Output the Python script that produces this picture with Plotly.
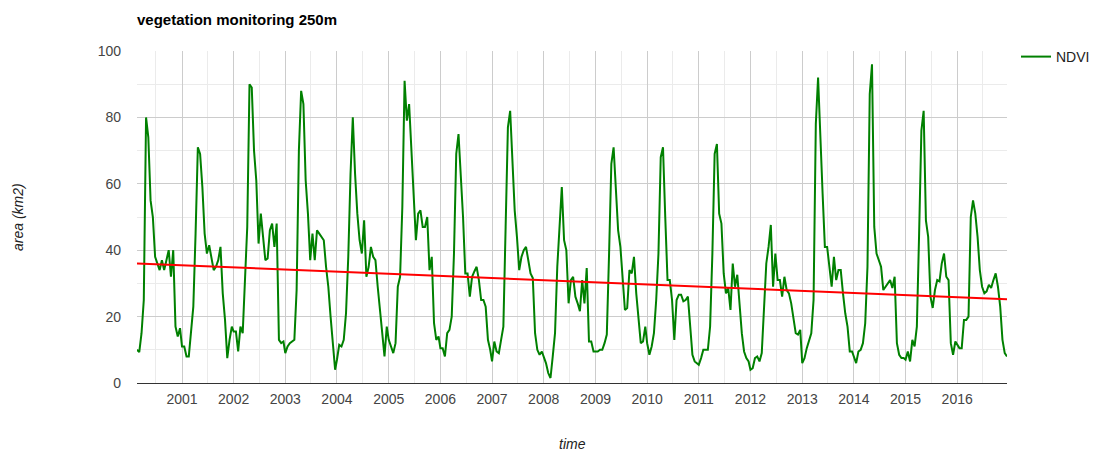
import datetime as dt
import numpy as np
import plotly.graph_objects as go

chart_title = "vegetation monitoring 250m"
series_name = "NDVI"
x_axis_title = "time"
y_axis_title = "area (km2)"

# start day-of-year of the 16-day composites
composite_doy = [1, 17, 33, 49, 65, 81, 97, 113, 129, 145, 161, 177,
                 193, 209, 225, 241, 257, 273, 289, 305, 321, 337, 353]

# NDVI area (km2) per composite, one list per year (2000 starts on day 49)
ndvi_2000 = [10, 9.3, 15, 25, 80, 74, 55, 50, 38, 36, 34, 37, 34, 37, 40, 32, 40, 17, 14, 16.5]
ndvi_2001 = [11, 11, 8, 8, 15, 23, 45, 71, 69, 59, 45, 39, 41.5, 38, 34, 35, 37, 41, 27, 19, 7.5, 13, 17]
ndvi_2002 = [15.5, 15.5, 9.5, 17, 15, 32, 47, 90, 89, 70, 61, 42, 51, 44, 37, 37.5, 46, 48, 41, 48, 13, 12, 12.5]
ndvi_2003 = [9, 11, 12, 12.5, 13, 28, 70, 88, 84, 61, 51, 37, 45, 37, 46, 45, 44, 43, 35, 29, 20, 11, 4]
ndvi_2004 = [7, 11.5, 11, 13, 21, 38, 63, 80, 63, 51, 43, 39, 49, 32, 35, 41, 38, 37, 29, 21, 15, 8, 17]
ndvi_2005 = [13, 11, 9, 12, 29, 32, 53, 91, 79, 84, 70, 53, 43, 51, 52, 47, 47, 50, 34, 38, 18, 13, 14]
ndvi_2006 = [10.5, 10.5, 8, 15, 16, 20, 39, 69, 75, 63, 50, 33, 33, 26, 32, 33.6, 35, 31, 25, 25, 23, 13, 10]
ndvi_2007 = [6.5, 12.5, 9.5, 9, 13, 17, 47, 77, 82, 67, 52, 44, 34, 38, 40, 41, 37, 33, 31.6, 15, 10, 8.5, 9.5]
ndvi_2008 = [8, 6, 3, 1.5, 8, 15, 35, 49, 59, 43, 40, 24, 31, 32, 26, 24, 21.6, 31, 24, 34.6, 12.5, 12.5, 9.5]
ndvi_2009 = [9.5, 9.5, 10, 10, 12, 14.6, 39, 66, 71, 57, 46, 41, 31, 22, 22.6, 34, 33, 38, 27, 19, 12, 12.5, 17]
ndvi_2010 = [12, 8.5, 11, 15, 25, 39, 68, 71, 50, 31, 31, 25, 13, 25, 26.6, 26.6, 24.6, 25, 26, 18, 8.5, 6.5, 6]
ndvi_2011 = [5.5, 7.5, 10, 10, 10, 17, 39, 69, 72, 51, 48, 33, 27, 28.6, 22, 36, 29, 32.6, 23, 15, 9.5, 7.5, 6.5]
ndvi_2012 = [4, 4.5, 7.5, 8, 6.5, 9, 25, 36, 41, 47.6, 29, 39, 31, 31, 26, 32, 28, 27, 24, 20, 15, 14.6, 16]
ndvi_2013 = [6, 7.5, 10.5, 13, 15, 25, 78, 92, 71, 57, 41, 41, 35, 29, 38, 31, 34, 34, 27, 21, 17, 9.5, 9.5]
ndvi_2014 = [8, 6, 9.5, 10, 12, 18, 35, 87, 96, 47, 39, 37, 35, 28, 29, 30, 31, 28.6, 32, 12, 8.5, 7.5, 7.5]
ndvi_2015 = [7, 9.5, 6.5, 13, 11, 17, 45, 76, 82, 49, 44, 26, 22.6, 28, 31, 30.6, 36, 39, 32, 31, 12, 8.5, 12.5]
ndvi_2016 = [11.5, 10.5, 10.5, 19, 19, 20, 50, 55, 51, 44, 34, 29, 27, 27.6, 29.6, 28.6, 31, 33, 29, 23, 13, 9, 8]

years = list(range(2000, 2017))
yearly_values = [ndvi_2000, ndvi_2001, ndvi_2002, ndvi_2003, ndvi_2004, ndvi_2005,
                 ndvi_2006, ndvi_2007, ndvi_2008, ndvi_2009, ndvi_2010, ndvi_2011,
                 ndvi_2012, ndvi_2013, ndvi_2014, ndvi_2015, ndvi_2016]

tick_years = list(range(2001, 2017))
y_tick_values = [0, 20, 40, 60, 80, 100]

# ---- build the series ----
dates, values = [], []
for year, vals in zip(years, yearly_values):
    doys = composite_doy[len(composite_doy) - len(vals):]
    for d, v in zip(doys, vals):
        dates.append(dt.date(year, 1, 1) + dt.timedelta(days=d - 1))
        values.append(v)

# linear trendline (least squares)
t = np.array([d.toordinal() for d in dates], dtype=float)
coef = np.polyfit(t, np.array(values, dtype=float), 1)
trend_x = [dates[0], dates[-1]]
trend_y = np.polyval(coef, [t[0], t[-1]])

FONT = "Arial, 'Liberation Sans', sans-serif"
W, H = 1096, 452
L, R, T, B = 137, 89, 51, 69
pw, ph = W - L - R, H - T - B

fig = go.Figure()
fig.add_trace(go.Scatter(x=dates, y=values, mode="lines", name=series_name,
                         line=dict(color="#008000", width=2)))
fig.add_trace(go.Scatter(x=trend_x, y=trend_y, mode="lines", name="trend",
                         showlegend=False, line=dict(color="#ff0000", width=2)))

fig.update_layout(
    width=W, height=H,
    margin=dict(l=L, r=R, t=T, b=B, autoexpand=False),
    paper_bgcolor="white", plot_bgcolor="white",
    font=dict(family=FONT, color="#444444", size=14),
    title=dict(text="<b>" + chart_title + "</b>", x=0, xref="paper", xanchor="left",
               y=1 - 20 / H, yref="container", yanchor="middle",
               font=dict(family=FONT, size=15, color="#000000")),
    showlegend=True,
    legend=dict(x=(1016 - L) / pw, xanchor="left", y=(H - B - 57) / ph, yanchor="middle",
                font=dict(family=FONT, size=14, color="#222222"),
                bgcolor="rgba(0,0,0,0)", borderwidth=0),
    xaxis=dict(
        type="date", range=[dates[0], dates[-1]],
        tickmode="array",
        tickvals=[dt.date(y, 1, 1) for y in tick_years],
        ticktext=[str(y) for y in tick_years],
        showgrid=True, gridcolor="#cccccc", gridwidth=1,
        minor=dict(tick0="2000-01-01", dtick="M6", showgrid=True, gridcolor="#ebebeb", gridwidth=1),
        zeroline=False, showline=False, ticks="",
        ticklabelstandoff=6,
        tickfont=dict(family=FONT, size=14, color="#444444"),
        fixedrange=True,
    ),
    yaxis=dict(
        range=[0, 100], tickmode="array", tickvals=y_tick_values,
        showgrid=True, gridcolor="#cccccc", gridwidth=1,
        minor=dict(dtick=10, tick0=0, showgrid=True, gridcolor="#ebebeb", gridwidth=1),
        zeroline=True, zerolinecolor="#333333", zerolinewidth=1,
        showline=False, ticks="", ticklabelstandoff=15,
        tickfont=dict(family=FONT, size=14, color="#444444"),
        fixedrange=True,
    ),
    annotations=[
        dict(text="<i>" + x_axis_title + "</i>", xref="paper", yref="paper",
             x=0.5, y=(383 - 444) / ph, xanchor="center", yanchor="middle",
             showarrow=False, font=dict(family=FONT, size=14, color="#222222")),
        dict(text="<i>" + y_axis_title + "</i>", xref="paper", yref="paper",
             x=(18 - L) / pw, y=0.5, xanchor="center", yanchor="middle", textangle=-90,
             showarrow=False, font=dict(family=FONT, size=14, color="#222222")),
    ],
)

fig.write_html("out.html",
               config={"displayModeBar": False},
               post_script="document.body.style.margin='0';document.body.style.padding='0';"
                           "document.body.style.overflow='hidden';")
